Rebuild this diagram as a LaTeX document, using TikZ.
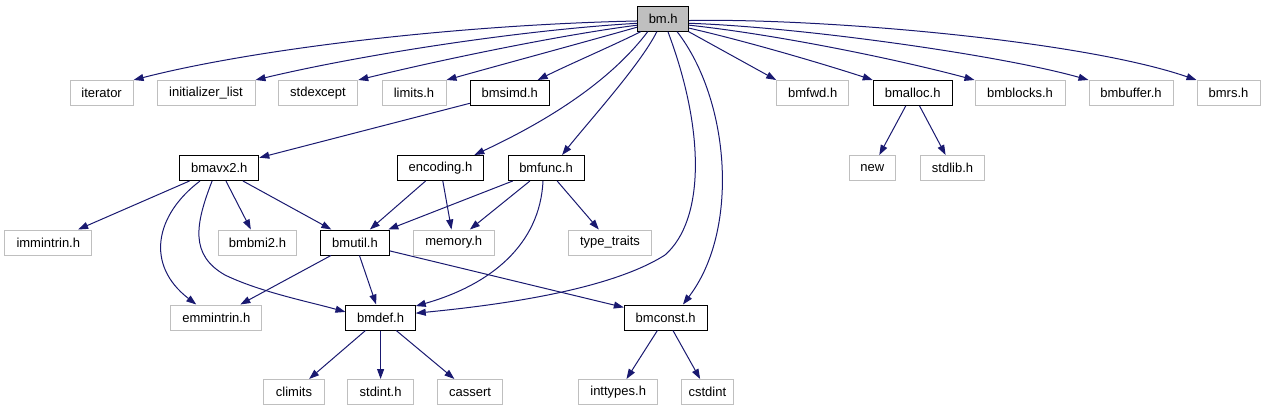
\documentclass[tikz,border=0pt]{standalone}
\usepackage{fontspec}
\setmainfont{Liberation Sans}
\usetikzlibrary{arrows.meta,calc}
\definecolor{edgeblue}{HTML}{191970}
\definecolor{lgray}{HTML}{BFBFBF}
\begin{document}
\begin{tikzpicture}[x=0.75pt,y=-0.75pt,
 box/.style={draw=lgray, line width=0.75pt, minimum height=25*0.75pt, inner sep=0pt,
   font=\fontsize{9.75}{11}\selectfont, minimum width=#1*0.75pt},
 doc/.style={box=#1, draw=black},
 edge/.style={draw=edgeblue, line width=0.75pt, -{Triangle[length=7.5pt,width=5.25pt]}}]
\useasboundingbox (0,0) rectangle (1265,411);
% row 1
\node[doc=51, fill=lgray] (bm) at (663.2,18.7) {bm.h};
% row 2
\node[box=63] (iterator) at (101.6,93) {iterator};
\node[box=98] (initlist) at (206,93) {initializer\_list};
\node[box=79.5] (stdexcept) at (318,93) {stdexcept};
\node[box=64] (limits) at (414,93) {limits.h};
\node[doc=79] (bmsimd) at (509.8,93) {bmsimd.h};
\node[box=72] (bmfwd) at (812.7,93) {bmfwd.h};
\node[doc=79] (bmalloc) at (912.7,93) {bmalloc.h};
\node[box=90] (bmblocks) at (1020,93) {bmblocks.h};
\node[box=84] (bmbuffer) at (1131,93) {bmbuffer.h};
\node[box=63] (bmrs) at (1228.5,93) {bmrs.h};
% row 3
\node[doc=79] (bmavx2) at (219.3,168) {bmavx2.h};
\node[doc=85.6] (encoding) at (440.5,168) {encoding.h};
\node[doc=76] (bmfunc) at (546,168) {bmfunc.h};
\node[box=46.6] (new) at (872.3,168) {new};
\node[box=64] (stdlib) at (952.5,168) {stdlib.h};
% row 4
\node[box=87.3] (immintrin) at (48.3,242.5) {immintrin.h};
\node[box=78.5] (bmbmi2) at (257.5,242.5) {bmbmi2.h};
\node[doc=68.7] (bmutil) at (355,242.5) {bmutil.h};
\node[box=81] (memory) at (453.8,242.5) {memory.h};
\node[box=83] (typetraits) at (610,242.5) {type\_traits};
% row 5
\node[box=90.7] (emmintrin) at (216.3,317.5) {emmintrin.h};
\node[doc=69.3] (bmdef) at (380.6,317.5) {bmdef.h};
\node[doc=82.7] (bmconst) at (665.7,317.5) {bmconst.h};
% row 6
\node[box=60.5] (climits) at (294,392) {climits};
\node[box=65.4] (stdint) at (380.6,392) {stdint.h};
\node[box=65] (cassert) at (470,392) {cassert};
\node[box=79] (inttypes) at (618.2,392) {inttypes.h};
\node[box=51.6] (cstdint) at (707.4,392) {cstdint};
% waypoints
\coordinate (w1) at (665,255);
\coordinate (w2) at (225,275);
% edges from bm.h
\draw[edge] (bm.185) .. controls (450,25) and (250,50) .. (iterator.north east);
\draw[edge] (bm.190) .. controls (520,30) and (360,55) .. (initlist.north east);
\draw[edge] (bm.194) .. controls (560,35) and (440,60) .. (stdexcept.north east);
\draw[edge] (bm.198) .. controls (585,42) and (500,65) .. (limits.north east);
\draw[edge] (bm.210) .. controls (612,46) and (570,64) .. (bmsimd.25);
\draw[edge] (bm.220) .. controls (615,75) and (560,115) .. (encoding.21);
\draw[edge] (bm.244) .. controls (640,65) and (590,120) .. (bmfunc.39);
\draw[edge] (bm.290) .. controls (705,130) and (705,220) .. (w1) .. controls (610,290) and (500,305) .. (bmdef.7);
\draw[edge] (bm.317) .. controls (730,100) and (740,230) .. (bmconst.37);
\draw[edge] (bm.333) -- (bmfwd.north west);
\draw[edge] (bm.340) .. controls (750,42) and (830,66) .. (bmalloc.north west);
\draw[edge] (bm.346) .. controls (780,35) and (900,60) .. (bmblocks.north west);
\draw[edge] (bm.350) .. controls (800,27) and (1000,55) .. (bmbuffer.north west);
\draw[edge] (bm.356) .. controls (820,18) and (1080,40) .. (bmrs.north west);
% second level
\draw[edge] (bmsimd) -- (bmavx2);
\draw[edge] (bmalloc) -- (new);
\draw[edge] (bmalloc) -- (stdlib);
\draw[edge] (bmavx2) -- (immintrin);
\draw[edge] (bmavx2.214) .. controls (155,215) and (145,265) .. (emmintrin.147);
\draw[edge] (bmavx2.241) .. controls (195,225) and (190,255) .. (w2) .. controls (260,292) and (310,302) .. (bmdef.171);
\draw[edge] (bmavx2) -- (bmbmi2);
\draw[edge] (bmavx2) -- (bmutil);
\draw[edge] (encoding) -- (bmutil);
\draw[edge] (encoding) -- (memory);
\draw[edge] (bmfunc) -- (bmutil);
\draw[edge] (bmfunc) -- (memory);
\draw[edge] (bmfunc.257) .. controls (540,245) and (490,285) .. (bmdef.18);
\draw[edge] (bmfunc) -- (typetraits);
\draw[edge] (bmutil) -- (emmintrin);
\draw[edge] (bmutil) -- (bmdef);
\draw[edge] (bmutil) -- (bmconst);
\draw[edge] (bmdef) -- (climits);
\draw[edge] (bmdef) -- (stdint);
\draw[edge] (bmdef) -- (cassert);
\draw[edge] (bmconst) -- (inttypes);
\draw[edge] (bmconst) -- (cstdint);
\end{tikzpicture}
\end{document}
